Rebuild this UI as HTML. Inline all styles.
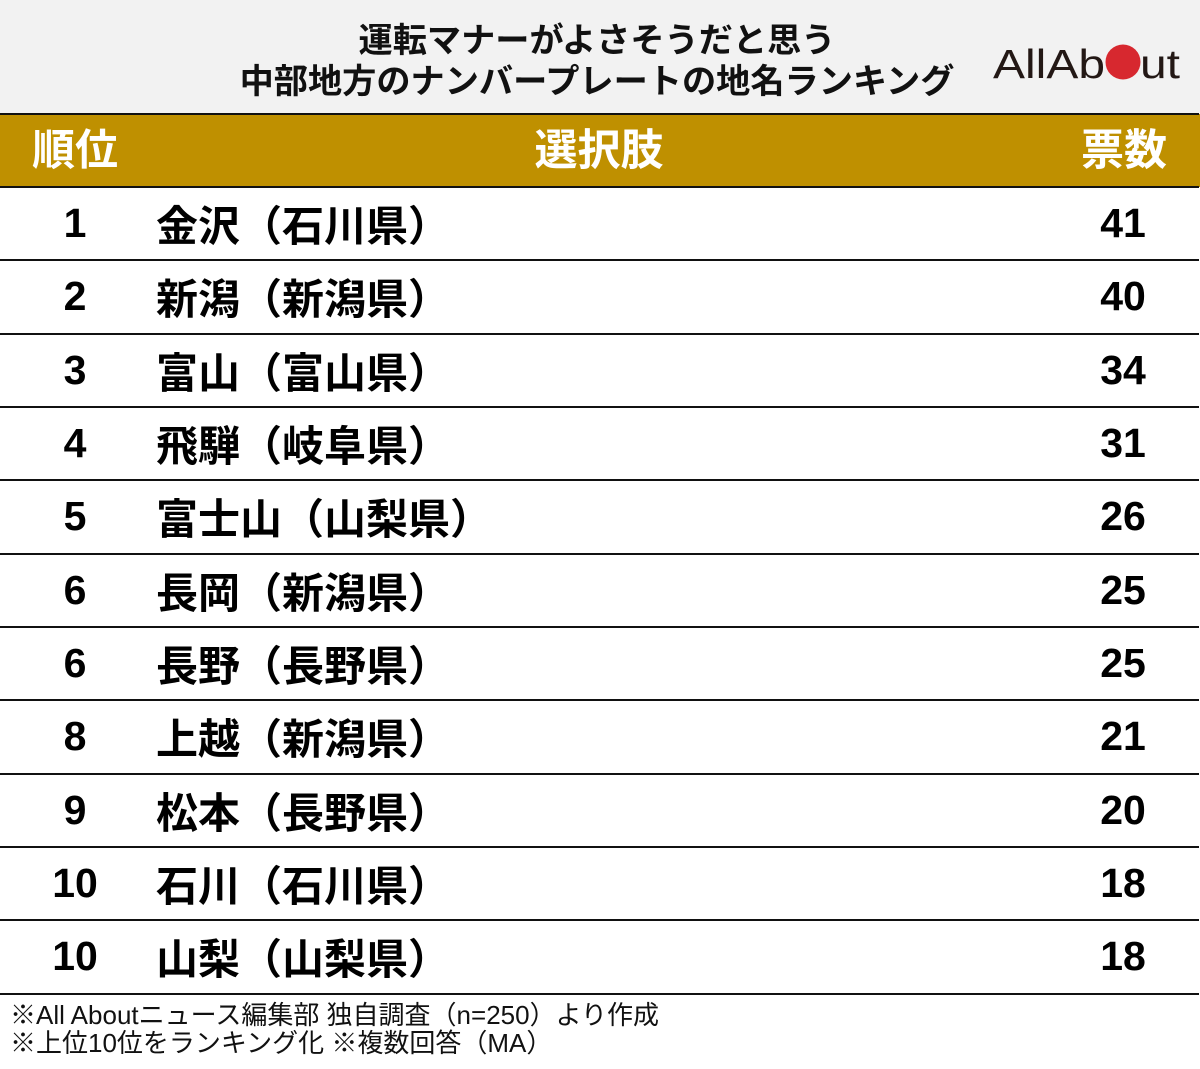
<!DOCTYPE html>
<html><head><meta charset="utf-8">
<style>
html,body{margin:0;padding:0;}
body{width:1200px;height:1069px;position:relative;background:#fff;overflow:hidden;
font-family:"Liberation Sans","Noto Sans CJK JP",sans-serif;color:#000;
text-spacing-trim:space-all;font-feature-settings:"chws" 0,"halt" 0,"palt" 0;}
.titlebg{position:absolute;left:0;top:0;width:1200px;height:114px;background:#f2f2f2;}
.t{position:absolute;left:-3px;width:1200px;text-align:center;font-weight:700;font-size:34.2px;line-height:1;white-space:nowrap;color:#111;}
.gold{position:absolute;left:0;top:114px;width:1200px;height:73px;background:#bf9000;}
.h{position:absolute;top:129px;height:44px;line-height:44px;font-weight:700;font-size:43px;color:#fff;text-align:center;white-space:nowrap;}
.ln{position:absolute;left:0;width:1199px;height:2px;background:#111;}
.r{position:absolute;height:73px;display:flex;align-items:center;font-weight:700;white-space:nowrap;}
.rk{left:25px;width:100px;justify-content:center;font-size:41px;}
.nm{left:156px;width:800px;font-size:42px;}
.vt{left:1073px;width:100px;justify-content:center;font-size:41px;}
.ft{position:absolute;left:10px;font-size:26px;line-height:1;white-space:nowrap;color:#111;}
</style></head><body>
<div class="titlebg"></div>
<div class="t" style="top:24px;">運転マナーがよさそうだと思う</div>
<div class="t" style="top:65px;">中部地方のナンバープレートの地名ランキング</div>
<svg style="position:absolute;left:0;top:0" width="1200" height="114">
<text x="993" y="78" font-family="Liberation Sans" font-size="41" fill="#231815" textLength="112" lengthAdjust="spacingAndGlyphs">AllAb</text>
<circle cx="1123" cy="62" r="17.5" fill="#d7282f"/>
<text x="1140" y="78" font-family="Liberation Sans" font-size="41" fill="#231815" textLength="40" lengthAdjust="spacingAndGlyphs">ut</text>
</svg>
<div class="gold"></div>
<div class="h" style="left:25px;width:100px;">順位</div>
<div class="h" style="left:449px;width:300px;">選択肢</div>
<div class="h" style="left:1024px;width:200px;">票数</div>

<div class="ln" style="top:113px;"></div>
<div class="ln" style="top:186px;"></div>
<div class="ln" style="top:259px;"></div>
<div class="ln" style="top:333px;"></div>
<div class="ln" style="top:406px;"></div>
<div class="ln" style="top:479px;"></div>
<div class="ln" style="top:553px;"></div>
<div class="ln" style="top:626px;"></div>
<div class="ln" style="top:699px;"></div>
<div class="ln" style="top:773px;"></div>
<div class="ln" style="top:846px;"></div>
<div class="ln" style="top:919px;"></div>
<div class="ln" style="top:993px;"></div>

<div class="r rk" style="top:187px;">1</div><div class="r nm" style="top:187px;">金沢（石川県）</div><div class="r vt" style="top:187px;">41</div>
<div class="r rk" style="top:260px;">2</div><div class="r nm" style="top:260px;">新潟（新潟県）</div><div class="r vt" style="top:260px;">40</div>
<div class="r rk" style="top:334px;">3</div><div class="r nm" style="top:334px;">富山（富山県）</div><div class="r vt" style="top:334px;">34</div>
<div class="r rk" style="top:407px;">4</div><div class="r nm" style="top:407px;">飛騨（岐阜県）</div><div class="r vt" style="top:407px;">31</div>
<div class="r rk" style="top:480px;">5</div><div class="r nm" style="top:480px;">富士山（山梨県）</div><div class="r vt" style="top:480px;">26</div>
<div class="r rk" style="top:554px;">6</div><div class="r nm" style="top:554px;">長岡（新潟県）</div><div class="r vt" style="top:554px;">25</div>
<div class="r rk" style="top:627px;">6</div><div class="r nm" style="top:627px;">長野（長野県）</div><div class="r vt" style="top:627px;">25</div>
<div class="r rk" style="top:700px;">8</div><div class="r nm" style="top:700px;">上越（新潟県）</div><div class="r vt" style="top:700px;">21</div>
<div class="r rk" style="top:774px;">9</div><div class="r nm" style="top:774px;">松本（長野県）</div><div class="r vt" style="top:774px;">20</div>
<div class="r rk" style="top:847px;">10</div><div class="r nm" style="top:847px;">石川（石川県）</div><div class="r vt" style="top:847px;">18</div>
<div class="r rk" style="top:920px;">10</div><div class="r nm" style="top:920px;">山梨（山梨県）</div><div class="r vt" style="top:920px;">18</div>

<div class="ft" style="top:1002px;">※All Aboutニュース編集部 独自調査（n=250）より作成</div>
<div class="ft" style="top:1030px;">※上位10位をランキング化 ※複数回答（MA）</div>
</body></html>
